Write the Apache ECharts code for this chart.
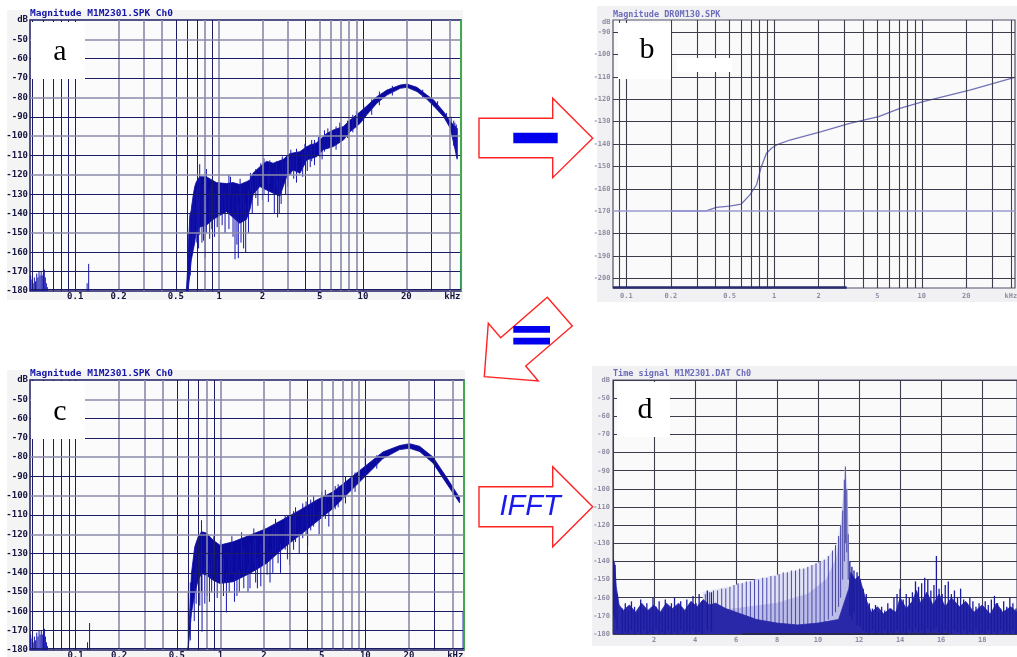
<!DOCTYPE html>
<html><head><meta charset="utf-8">
<script src="https://cdn.jsdelivr.net/npm/echarts@6/dist/echarts.min.js"></script>
<style>html,body{margin:0;padding:0;background:#fff}#c{width:1017px;height:657px}</style>
</head><body><div id="c"></div>
<script>
// ---------- tick labels ----------
const freqTickVals = [0.1, 0.2, 0.5, 1, 2, 5, 10, 20];
const freqTickLabels = ['0.1', '0.2', '0.5', '1', '2', '5', '10', '20'];
const freqUnit = 'kHz';
const freqGrid = [0.05,0.06,0.07,0.08,0.09,0.1,0.2,0.3,0.4,0.5,0.6,0.7,0.8,0.9,1,2,3,4,5,6,7,8,9,10,20,30,40];
const freqGridLight = [0.2,0.3,0.4,0.8,1,2,3,5,6,7,8,9,20,40];
const dbGrid = [-170,-160,-150,-140,-130,-120,-110,-100,-90,-80,-70,-60,-50];
const dbGridLight = [-150,-120,-100,-80,-50];
const bFreqGrid = [0.09,0.1,0.2,0.3,0.4,0.5,0.6,0.7,0.8,0.9,1,2,3,4,5,6,7,8,9,10,20,30,40];
const bDbTicks = [-90,-100,-110,-120,-130,-140,-150,-160,-170,-180,-190,-200];

// ---------- panel a: measured magnitude spectrum (kHz, dB) ----------
const aUpper = [[0.592,-180],[0.608,-165],[0.625,-141.6],[0.641,-138],[0.659,-131],[0.677,-126],[0.695,-123.5],[0.733,-121],[0.816,-121],[0.958,-124],[1.125,-124.5],[1.252,-124],[1.393,-125],[1.55,-123.5],[1.636,-122.7],[1.726,-119],[1.92,-115.8],[2.137,-113],[2.378,-114],[2.793,-112],[3.108,-109],[3.649,-108],[4.061,-105.4],[4.768,-103.4],[5.598,-98.6],[6.229,-96.8],[7.312,-95],[8.138,-91.7],[9.556,-87.4],[10.63,-84.4],[12.49,-79.6],[14.66,-76.2],[18.16,-73.6],[20.21,-73.1],[23.73,-74.8],[27.85,-78.8],[30.99,-81.3],[36.39,-87.4],[40.5,-92.5],[45.08,-96]];
const aLower = [[0.592,-180],[0.608,-180],[0.625,-172],[0.641,-164],[0.677,-155],[0.695,-149],[0.733,-147],[0.816,-146],[0.908,-143],[1.011,-141],[1.125,-139],[1.252,-142],[1.393,-145],[1.55,-143],[1.636,-138],[1.726,-130],[1.92,-126],[2.137,-127.8],[2.378,-129.5],[2.647,-131],[2.946,-121],[3.28,-117.5],[3.649,-119.2],[4.061,-112.3],[4.768,-110.6],[5.306,-107],[6.229,-105.4],[7.312,-102],[8.138,-97.7],[9.556,-93.4],[10.63,-89],[12.49,-83],[14.66,-78.8],[18.16,-75.3],[20.21,-74.8],[23.73,-77],[27.85,-81],[30.99,-84.4],[36.39,-90],[40.5,-96],[45.08,-111.5]];
const aSpikes = [[0.61,-180,-150],[0.63,-172,-140],[0.65,-160,-135],[0.67,-156,-130],[0.70,-155,-128],[0.72,-158,-132],[0.733,-151,-114.5],[0.76,-155,-130],[0.78,-154,-125],[0.80,-163,-135],[0.816,-150,-117],[0.86,-153,-128],[0.89,-148,-125],[0.93,-152,-130],[0.97,-147,-125],[1.05,-146,-125],[1.1,-150,-128],[1.17,-148,-120],[1.25,-152,-130],[1.29,-163.6,-140],[1.33,-156,-130],[1.36,-163,-135],[1.42,-155,-130],[1.48,-158,-130],[1.53,-160,-135],[1.6,-150,-128],[1.7,-140,-120],[1.8,-132,-117],[1.86,-136,-120],[2.0,-133,-115],[2.05,-130,-111.5],[2.2,-134,-118],[2.42,-140,-120],[2.55,-142,-122],[2.62,-140,-118],[2.7,-135,-120],[2.9,-130,-113],[3.0,-126,-112],[3.3,-122,-110],[3.81,-121,-108],[4.3,-116,-104],[4.6,-115,-102],[5.0,-111,-100],[5.4,-108,-97],[6.5,-107,-95],[7.8,-101,-92],[9.0,-96,-87],[11.5,-89,-81],[42.7,-105,-92],[44,-108,-95],[45.08,-112,-96],[47.6,-180,-162],
  [1.2,-130,-121],[1.4,-132,-122],[1.65,-128,-119],[1.95,-124,-114],[2.25,-124,-112.5],[2.5,-126,-113],[2.75,-122,-110.5],[3.15,-120,-107],[3.45,-124,-106.5],[3.95,-115,-104],[4.1,-118,-108],[4.4,-113,-102],[4.9,-110,-100.5],[5.2,-112,-104],[5.7,-106,-96],[6.0,-110,-100],[6.9,-103,-93],[8.5,-98,-89],[10.1,-92,-84],[13,-84,-77],[16,-79,-74],[26,-80,-76],[33,-86,-82],[38,-92,-88],[41,-98,-90],[43.5,-106,-93],[44.5,-110,-94],
  [0.049,-180,-172],[0.05,-180,-174],[0.051,-180,-176],[0.052,-180,-173],[0.053,-180,-175],[0.054,-180,-171],[0.055,-180,-173],[0.056,-180,-170],[0.057,-180,-172],[0.058,-180,-170],[0.059,-180,-172],[0.06,-180,-171],[0.061,-180,-169],[0.062,-180,-173],[0.063,-180,-176],[0.064,-180,-178],[0.121,-180,-176],[0.124,-180,-166]];

// ---------- panel b: transfer magnitude (kHz, dB) ----------
const bCurve = [[0.2,-169.9],[0.348,-169.9],[0.407,-168.3],[0.5,-167.7],[0.6,-166.8],[0.684,-162.8],[0.76,-158.3],[0.82,-150.1],[0.887,-144.2],[0.96,-141.9],[1.04,-140.4],[1.28,-138.2],[2.09,-134.5],[3.25,-130.8],[5.1,-127.8],[7.1,-124.1],[10.2,-121.1],[21.1,-115.9],[42.5,-110.2]];

// ---------- panel c: model spectrum (kHz, dB) ----------
const cUpper = [[0.598,-180],[0.631,-140.3],[0.665,-126.5],[0.702,-121.3],[0.74,-118.7],[0.8,-119.3],[0.89,-123],[0.99,-125.6],[1.223,-123.9],[1.593,-120.5],[2.076,-117],[2.705,-112.3],[3.525,-107.5],[4.593,-102.3],[5.984,-98],[7.798,-91.1],[10.16,-84.2],[13.24,-77.3],[17.25,-74],[20.22,-73],[23.7,-74.4],[29.29,-79.9],[36.19,-90.2],[44.74,-101]];
const cLower = [[0.598,-180],[0.631,-161],[0.665,-150.7],[0.702,-143.8],[0.74,-140.3],[0.8,-141.2],[0.89,-143.8],[0.99,-145.5],[1.223,-144.6],[1.593,-140.3],[2.076,-135.1],[2.705,-127.4],[3.525,-120.5],[4.593,-113.6],[5.984,-106.6],[7.798,-98],[10.16,-89.4],[13.24,-80.7],[17.25,-76.1],[20.22,-75.4],[23.7,-77.1],[29.29,-83],[36.19,-93.4],[44.74,-103.7]];
const cSpikes = [[0.6,-180,-150],[0.62,-175,-145],[0.66,-165,-140],[0.68,-156,-125],[0.72,-157,-130],[0.74,-150,-112.7],[0.747,-170.5,-140],[0.78,-156,-130],[0.81,-152,-130],[0.84,-155,-135],[0.87,-150,-130],[0.95,-153,-133],[1.05,-152,-132],[1.1,-160.5,-140],[1.15,-150,-130],[1.3,-152,-130],[1.45,-148,-128],[1.6,-148,-125],[1.75,-145,-122],[1.9,-147,-125],[2.1,-141,-118],[2.3,-140,-116],[2.5,-135,-114],[2.9,-133,-110],[3.2,-128,-108],[3.7,-122,-104],[4.2,-118,-102],[5.0,-112,-98],[6.2,-107,-95],[7.3,-104,-90],[10.0,-90,-75.6],[47.3,-180,-160],
  [0.9,-140,-121],[1.0,-142,-123],[1.2,-140,-121],[1.4,-138,-119],[1.7,-136,-117],[2.0,-134,-115],[2.4,-130,-112],[2.8,-128,-110],[3.3,-124,-106],[3.9,-120,-103],[4.4,-116,-100],[5.3,-112,-97],[6.5,-106,-94],[8.5,-98,-88],[12,-86,-79],
  [1.25,-155,-140],[1.35,-150,-138],[1.55,-150,-136],[1.8,-148,-132],[2.2,-145,-128],[2.6,-140,-125],[3.0,-136,-122],[3.5,-130,-118],[4.0,-126,-112],[4.8,-120,-108],[5.6,-116,-104],
  [0.049,-180,-172],[0.05,-180,-174],[0.051,-180,-176],[0.052,-180,-173],[0.053,-180,-175],[0.054,-180,-171],[0.055,-180,-173],[0.056,-180,-170],[0.057,-180,-172],[0.058,-180,-170],[0.059,-180,-172],[0.06,-180,-171],[0.061,-180,-169],[0.062,-180,-173],[0.063,-180,-176],[0.064,-180,-178],[0.121,-180,-176],[0.125,-180,-166]];

// ---------- panel d: time signal (ms, dB) ----------
const dFloorUpper = [[0,-139],[0.08,-141],[0.16,-154],[0.3,-164],[0.5,-167],[0.8,-164],[1.1,-168],[1.4,-163],[1.7,-167],[2.0,-164],[2.3,-168],[2.6,-163],[2.9,-166],[3.2,-163],[3.5,-167],[3.8,-162],[4.1,-165],[4.4,-161],[4.7,-164],[5.0,-163],[5.5,-166],[6,-168],[6.5,-170],[7,-172],[8,-174],[9,-175],[10,-174],[11,-172],[11.5,-155],[11.6,-146],[11.8,-150],[12.0,-148],[12.3,-160],[12.6,-168],[12.9,-165],[13.2,-169],[13.5,-166],[13.8,-168],[14.0,-160],[14.3,-166],[14.6,-162],[14.8,-156],[15.0,-163],[15.3,-157],[15.6,-164],[15.9,-158],[16.2,-165],[16.5,-160],[16.9,-165],[17.2,-162],[17.6,-168],[18.0,-164],[18.4,-169],[18.7,-163],[19.0,-168],[19.4,-165],[19.7,-168]];
const dFloorLower = [[0,-180],[19.7,-180]];
const dCombUpper = [[4.4,-157],[5.7,-154],[7,-150],[8.1,-147.3],[9.4,-143.7],[10.4,-139],[10.9,-131.7],[11.14,-117],[11.33,-87.7],[11.43,-102],[11.5,-137]];
const dCombLower = [[4.4,-178],[11.5,-178]];
const dHazeUpper = [[4.4,-168],[6,-166],[8,-163],[9.5,-158],[10.4,-150],[10.9,-138],[11.14,-122],[11.33,-92],[11.43,-110],[11.5,-140]];
const dComb = [[4.5,-178,-158],[4.7,-176,-157],[4.9,-178,-156],[5.1,-177,-156],[5.3,-178,-155],[5.5,-176,-155],[5.7,-178,-154],[5.9,-177,-153],[6.1,-178,-152],[6.3,-177,-152],[6.5,-178,-151],[6.7,-176,-151],[6.9,-178,-150],[7.1,-177,-150],[7.3,-178,-149],[7.5,-176,-149],[7.7,-178,-148],[7.9,-177,-148],[8.1,-178,-147],[8.3,-176,-146],[8.5,-178,-146],[8.7,-177,-145],[8.9,-178,-145],[9.1,-176,-144],[9.3,-178,-144],[9.5,-176,-143],[9.7,-177,-142],[9.9,-176,-141],[10.1,-175,-140],[10.3,-174,-139],[10.5,-172,-137],[10.7,-170,-134],[10.85,-168,-131],[11.0,-165,-126],[11.1,-160,-120],[11.2,-150,-112],[11.28,-140,-95],[11.33,-130,-87.7],[11.4,-135,-100],[11.47,-150,-125]];
const dNoise = [[0.02,-170,-139],[0.1,-172,-142],[0.2,-178,-158],[0.45,-180,-166],[0.6,-179,-163],[0.75,-180,-167],[0.9,-178,-162],[1.05,-180,-165],[1.2,-179,-168],[1.35,-180,-161],[1.5,-178,-166],[1.65,-180,-163],[1.8,-179,-167],[1.95,-180,-160],[2.1,-178,-165],[2.25,-180,-162],[2.4,-179,-168],[2.55,-180,-161],[2.7,-178,-166],[2.85,-180,-163],[3.0,-179,-160],[3.15,-180,-165],[3.3,-178,-162],[3.45,-180,-167],[3.6,-179,-161],[3.75,-180,-164],[3.9,-178,-159],[4.05,-180,-163],[4.2,-179,-158],[4.35,-180,-162],[4.6,-178,-156],[4.8,-179,-157],
  [11.55,-170,-140],[11.65,-172,-143],[11.75,-168,-145],[11.9,-175,-146],[12.05,-176,-150],[12.2,-178,-155],[12.35,-179,-158],[12.5,-180,-163],[12.65,-178,-166],[12.8,-180,-164],[12.95,-179,-168],[13.1,-180,-165],[13.25,-178,-167],[13.4,-180,-163],[13.55,-179,-166],[13.7,-180,-160],[13.85,-178,-158],[14.0,-180,-155],[14.15,-179,-161],[14.3,-180,-158],[14.45,-178,-160],[14.6,-179,-157],[14.75,-177,-151],[14.9,-179,-154],[15.05,-178,-152],[15.2,-180,-149],[15.35,-177,-150],[15.5,-179,-156],[15.65,-178,-153],[15.77,-176,-137],[15.9,-179,-155],[16.05,-180,-158],[16.2,-178,-153],[16.35,-179,-151],[16.5,-180,-158],[16.65,-178,-156],[16.8,-179,-160],[16.95,-180,-155],[17.1,-178,-161],[17.25,-180,-163],[17.4,-179,-160],[17.55,-180,-162],[17.7,-178,-165],[17.85,-180,-163],[18.0,-179,-166],[18.15,-180,-162],[18.3,-178,-164],[18.45,-180,-161],[18.6,-179,-159],[18.75,-180,-163],[18.9,-178,-166],[19.05,-180,-162],[19.2,-179,-165],[19.35,-180,-160],[19.5,-178,-163],[19.65,-180,-166]];

// ---------- styling helpers ----------
const NAVY = '#1c1c64', SLATE = '#8a8aaa', GREYL = '#3c3c4c';
const MONO = 'DejaVu Sans Mono';
const acLabel = {color:'#141440', fontFamily:MONO, fontSize:9, fontWeight:'bold'};
const blurLabel = {color:'#8e8ea4', fontFamily:MONO, fontSize:7, fontWeight:'bold'};

function vLines(vals, light, dark, lightC, wl, wd) {
  return vals.map(v => ({xAxis:v, lineStyle:{color: light.includes(v)?lightC:dark, width: light.includes(v)?wl:wd, type:'solid'}}));
}
function hLines(vals, light, dark, lightC, wl, wd) {
  return vals.map(v => ({yAxis:v, lineStyle:{color: light.includes(v)?lightC:dark, width: light.includes(v)?wl:wd, type:'solid'}}));
}
function xLabelPoints(vals, labels, y, unitX, style, dist) {
  const pts = vals.map((v,i) => ({name:labels[i], coord:[v,y], label:Object.assign({show:true, position:'bottom', distance:dist, formatter:'{b}'}, style)}));
  pts.push({name:freqUnit, coord:[unitX,y], label:Object.assign({show:true, position:'bottom', distance:dist, formatter:'{b}'}, style)});
  return pts;
}
function gridSeries(idx, anchor, lines, points) {
  return {type:'line', xAxisIndex:idx, yAxisIndex:idx, data:[anchor], showSymbol:false, silent:true, z:2,
    lineStyle:{width:0}, animation:false,
    markLine:{silent:true, symbol:['none','none'], label:{show:false}, animation:false, lineStyle:{type:'solid'}, data:lines},
    markPoint:{silent:true, symbol:'rect', symbolSize:1, itemStyle:{color:'rgba(0,0,0,0)'}, animation:false, data:points}};
}
function bandSeries(idx, upper, lower, color, z) {
  return {type:'custom', xAxisIndex:idx, yAxisIndex:idx, data:[upper[0]], clip:true, silent:true, z:z,
    renderItem: function(params, api) {
      const pts = upper.map(p => api.coord(p));
      for (let i = lower.length - 1; i >= 0; i--) pts.push(api.coord(lower[i]));
      return {type:'polygon', shape:{points:pts}, style:{fill:color, stroke:color, lineWidth:0.8}};
    }};
}
function spikeSeries(idx, data, color, width, z) {
  return {type:'custom', xAxisIndex:idx, yAxisIndex:idx, data:data, clip:true, silent:true, z:z,
    encode:{x:0, y:[1,2]},
    renderItem: function(params, api) {
      const p1 = api.coord([api.value(0), api.value(1)]);
      const p2 = api.coord([api.value(0), api.value(2)]);
      return {type:'line', shape:{x1:p1[0], y1:p1[1], x2:p2[0], y2:p2[1]}, style:{stroke:color, lineWidth:width}};
    }};
}

// ---------- panel scales ----------
const A_MIN = 0.0485, A_MAX = 48;
const B_MIN = 0.0813, B_MAX = 42.7, B_YMIN = -204.3, B_YMAX = -84.6;

const acLines = vLines(freqGrid, freqGridLight, NAVY, SLATE, 1.6, 1)
  .concat(hLines(dbGrid, dbGridLight, NAVY, SLATE, 1.6, 1))
  .concat([{xAxis:47.9, lineStyle:{color:'#3cc83c', width:1.5, type:'solid'}},
           {yAxis:-179.2, lineStyle:{color:NAVY, width:1, type:'solid'}}]);

const bBottom = {color:'#2a2a70', width:2.5, type:'solid'};
const bLines = vLines(bFreqGrid, [], GREYL, GREYL, 1, 1.1)
  .concat(hLines(bDbTicks, [-170], GREYL, '#9a9ad0', 1.6, 1.1))
  .concat([[{coord:[B_MIN, B_YMIN+0.5], lineStyle:bBottom}, {coord:[3.1, B_YMIN+0.5], lineStyle:bBottom}]]);
const bPoints = xLabelPoints(freqTickVals, freqTickLabels, B_YMIN, 40, blurLabel, 4)
  .concat(bDbTicks.map(v => ({name:String(v), coord:[B_MIN, v], label:Object.assign({show:true, position:'left', distance:2, formatter:'{b}'}, blurLabel)})))
  .concat([{name:'dB', coord:[B_MIN, -85.6], label:Object.assign({show:true, position:'left', distance:2, formatter:'{b}'}, blurLabel)}]);

const dBottom = {color:'#2a2a50', width:2, type:'solid'};
const dbFmt = v => (v === -40 ? 'dB' : String(v));

const chart = echarts.init(document.getElementById('c'), null, {renderer:'canvas'});
chart.setOption({
  animation:false,
  backgroundColor:'#ffffff',
  grid:[
    {left:30, top:20, width:431, height:271, show:true, backgroundColor:'#fbfbfb', borderColor:NAVY, borderWidth:1.5},
    {left:613, top:20, width:402, height:268, show:true, backgroundColor:'#fafafa', borderColor:'#50506a', borderWidth:1.2},
    {left:30, top:380, width:434, height:270, show:true, backgroundColor:'#fbfbfb', borderColor:NAVY, borderWidth:1.5},
    {left:613, top:380, width:404, height:254, show:true, backgroundColor:'#fafafa', borderColor:'#50506a', borderWidth:1.2}
  ],
  xAxis:[
    {type:'log', gridIndex:0, min:A_MIN, max:A_MAX, axisLine:{show:false}, axisTick:{show:false}, axisLabel:{show:false}, splitLine:{show:false}},
    {type:'log', gridIndex:1, min:B_MIN, max:B_MAX, axisLine:{show:false}, axisTick:{show:false}, axisLabel:{show:false}, splitLine:{show:false}},
    {type:'log', gridIndex:2, min:A_MIN, max:A_MAX, axisLine:{show:false}, axisTick:{show:false}, axisLabel:{show:false}, splitLine:{show:false}},
    {type:'value', gridIndex:3, min:0, max:19.7, interval:2, axisLine:{show:false}, axisTick:{show:false},
      axisLabel:Object.assign({margin:3, showMaxLabel:false, formatter: v => (v === 0 ? '' : String(v))}, blurLabel),
      splitLine:{show:true, lineStyle:{color:GREYL, width:1.1}}}
  ],
  yAxis:[
    {type:'value', gridIndex:0, min:-180, max:-40, interval:10, axisLine:{show:false}, axisTick:{show:false},
      axisLabel:Object.assign({margin:2, formatter:dbFmt}, acLabel), splitLine:{show:false}},
    {type:'value', gridIndex:1, min:B_YMIN, max:B_YMAX, axisLine:{show:false}, axisTick:{show:false}, axisLabel:{show:false}, splitLine:{show:false}},
    {type:'value', gridIndex:2, min:-180, max:-40, interval:10, axisLine:{show:false}, axisTick:{show:false},
      axisLabel:Object.assign({margin:2, formatter:dbFmt}, acLabel), splitLine:{show:false}},
    {type:'value', gridIndex:3, min:-180, max:-40, interval:10, axisLine:{show:false}, axisTick:{show:false},
      axisLabel:Object.assign({margin:3, formatter:dbFmt}, blurLabel), splitLine:{show:true, lineStyle:{color:GREYL, width:1.1}}}
  ],
  series:[
    // panel a
    gridSeries(0, [A_MIN, -180], acLines, xLabelPoints(freqTickVals, freqTickLabels, -180, 41.8, acLabel, 1)),
    bandSeries(0, aUpper, aLower, '#0a0a9e', 3),
    spikeSeries(0, aSpikes, '#1616b0', 1, 4),
    // panel b
    gridSeries(1, [B_MIN, B_YMIN], bLines, bPoints),
    {type:'line', xAxisIndex:1, yAxisIndex:1, data:bCurve, showSymbol:false, silent:true, z:4,
      lineStyle:{color:'#7272b8', width:1.3}},
    // panel c
    gridSeries(2, [A_MIN, -180], acLines, xLabelPoints(freqTickVals, freqTickLabels, -180, 41.8, acLabel, 1)),
    bandSeries(2, cUpper, cLower, '#0a0a9e', 3),
    spikeSeries(2, cSpikes, '#1616b0', 1, 4),
    // panel d
    {type:'line', xAxisIndex:3, yAxisIndex:3, data:[[0,-180]], showSymbol:false, silent:true, z:2, lineStyle:{width:0},
      markLine:{silent:true, symbol:['none','none'], label:{show:false}, animation:false, lineStyle:{type:'solid'},
        data:[[{coord:[6.3,-179.6], lineStyle:dBottom}, {coord:[16.4,-179.6], lineStyle:dBottom}]]}},
    bandSeries(3, dCombUpper, dCombLower, '#e2e2f6', 3),
    bandSeries(3, dHazeUpper, dCombLower, '#bcbce8', 3),
    spikeSeries(3, dComb, '#4a4aa8', 1, 4),
    bandSeries(3, dFloorUpper, dFloorLower, '#2828a8', 4),
    spikeSeries(3, dNoise, '#1a1aa0', 1.3, 5)
  ],
  graphic:[
    // panel backgrounds
    {type:'rect', z:-10, shape:{x:7, y:10, width:456, height:290}, style:{fill:'#f4f4f4'}},
    {type:'rect', z:-10, shape:{x:7, y:370, width:458, height:287}, style:{fill:'#f4f4f4'}},
    {type:'rect', z:-10, shape:{x:597, y:6, width:420, height:296}, style:{fill:'#f1f1f3'}},
    {type:'rect', z:-10, shape:{x:592, y:366, width:425, height:280}, style:{fill:'#f1f1f3'}},
    // titles
    {type:'text', z:50, x:30, y:9, style:{text:'Magnitude M1M2301.SPK Ch0', fill:'#1414a8', font:'bold 9.5px "DejaVu Sans Mono"'}},
    {type:'text', z:50, x:30, y:369, style:{text:'Magnitude M1M2301.SPK Ch0', fill:'#1414a8', font:'bold 9.5px "DejaVu Sans Mono"'}},
    {type:'text', z:50, x:613, y:10, style:{text:'Magnitude DR0M130.SPK', fill:'#6c6cbc', font:'bold 8.5px "DejaVu Sans Mono"'}},
    {type:'text', z:50, x:613, y:369, style:{text:'Time signal M1M2301.DAT Ch0', fill:'#6c6cbc', font:'bold 8.5px "DejaVu Sans Mono"'}},
    // letter boxes
    {type:'rect', z:60, shape:{x:31, y:22, width:54, height:57}, style:{fill:'#ffffff'}},
    {type:'text', z:61, x:60, y:52, style:{text:'a', fill:'#000', font:'30px "Liberation Serif"', align:'center', verticalAlign:'middle'}},
    {type:'rect', z:60, shape:{x:618, y:23, width:53, height:56}, style:{fill:'#ffffff'}},
    {type:'rect', z:60, shape:{x:677, y:58, width:55, height:14}, style:{fill:'#ffffff'}},
    {type:'text', z:61, x:647, y:50, style:{text:'b', fill:'#000', font:'30px "Liberation Serif"', align:'center', verticalAlign:'middle'}},
    {type:'rect', z:60, shape:{x:31, y:381, width:54, height:58}, style:{fill:'#ffffff'}},
    {type:'text', z:61, x:60, y:412, style:{text:'c', fill:'#000', font:'30px "Liberation Serif"', align:'center', verticalAlign:'middle'}},
    {type:'rect', z:60, shape:{x:617, y:382, width:53, height:55}, style:{fill:'#ffffff'}},
    {type:'text', z:61, x:645, y:410, style:{text:'d', fill:'#000', font:'30px "Liberation Serif"', align:'center', verticalAlign:'middle'}},
    // arrows
    {type:'polygon', z:70, shape:{points:[[479,118.3],[552.7,118.3],[552.7,98.3],[592.7,138.3],[552.7,177.7],[552.7,157.7],[479,157.7]]}, style:{fill:'#ffffff', stroke:'#ff2424', lineWidth:1.4}},
    {type:'rect', z:71, shape:{x:513.3, y:132.7, width:44.4, height:10.6}, style:{fill:'#0000ee'}},
    {type:'polygon', z:70, shape:{points:[[547.3,297.3],[572.3,326],[525.7,366],[538.3,381],[484.3,376.7],[488.3,323.3],[500.7,337.7]]}, style:{fill:'#ffffff', stroke:'#ff2424', lineWidth:1.4}},
    {type:'rect', z:71, shape:{x:513.3, y:326, width:36.7, height:6.7}, style:{fill:'#0000ee'}},
    {type:'rect', z:71, shape:{x:513.3, y:337.7, width:36.7, height:6.7}, style:{fill:'#0000ee'}},
    {type:'polygon', z:70, shape:{points:[[479,486.7],[552.7,486.7],[552.7,466.7],[592.7,506.7],[552.7,546.7],[552.7,526.7],[479,526.7]]}, style:{fill:'#ffffff', stroke:'#ff2424', lineWidth:1.4}},
    {type:'text', z:71, x:530, y:507, style:{text:'IFFT', fill:'#1a1aee', font:'italic 29px "Liberation Sans"', align:'center', verticalAlign:'middle'}}
  ]
});
</script></body></html>
